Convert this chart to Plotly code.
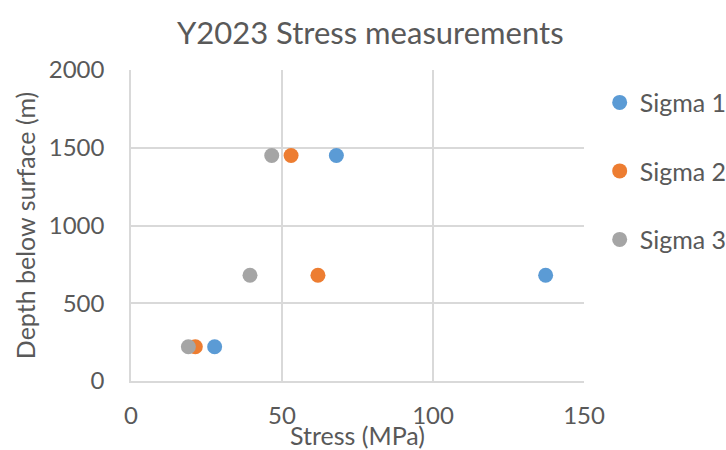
import plotly.graph_objects as go

# Stress measurements (MPa) at three depths (m)
depth_m = [220, 680, 1450]
sigma1_mpa = [27.7, 137.3, 68.0]
sigma2_mpa = [21.3, 61.9, 53.0]
sigma3_mpa = [19.0, 39.4, 46.6]

series_names = ["Sigma 1", "Sigma 2", "Sigma 3"]
series_values = [sigma1_mpa, sigma2_mpa, sigma3_mpa]
series_colors = ["#5B9BD5", "#ED7D31", "#A5A5A5"]

x_ticks = [0, 50, 100, 150]
y_ticks = [0, 500, 1000, 1500, 2000]

FONT = "Lato"
TEXT = "#595959"
GRID = "#D9D9D9"

fig = go.Figure()
for i, (name, vals, col) in enumerate(zip(series_names, series_values, series_colors)):
    fig.add_trace(go.Scatter(
        x=vals, y=depth_m, mode="markers", name=name,
        legendgroup=f"g{i}",
        marker=dict(size=15, color=col, line=dict(width=0)),
    ))

fig.update_layout(
    width=726, height=450,
    margin=dict(l=131, r=142, t=70, b=69),
    paper_bgcolor="white", plot_bgcolor="white",
    font=dict(family=FONT, color=TEXT, size=24),
    title=dict(text="Y2023 Stress measurements", xref="container", x=0.51, xanchor="center",
               y=0.927, yanchor="middle", font=dict(size=31, color=TEXT, family=FONT)),
    legend=dict(xref="container", yref="container", x=0.826, y=0.823,
                xanchor="left", yanchor="top",
                tracegroupgap=33, font=dict(size=25, color=TEXT, family=FONT),
                itemwidth=30, bgcolor="rgba(0,0,0,0)"),
    showlegend=True,
)
fig.update_xaxes(
    range=[0, 150], tickvals=x_ticks, showgrid=True, gridcolor=GRID, gridwidth=1.5,
    showline=True, linecolor=GRID, linewidth=1.5, zeroline=False,
    ticks="", ticklabelstandoff=12, automargin=False,
    tickfont=dict(size=24, color=TEXT),
    title=dict(text="Stress (MPa)", standoff=7, font=dict(size=25, color=TEXT)),
)
fig.update_yaxes(
    range=[0, 2000], tickvals=y_ticks, showgrid=True, gridcolor=GRID, gridwidth=1.5,
    showline=True, linecolor=GRID, linewidth=1.5, zeroline=False,
    ticks="", ticklabelstandoff=20, automargin=False,
    tickfont=dict(size=24, color=TEXT),
    title=dict(text="Depth below surface (m)", standoff=6, font=dict(size=25, color=TEXT)),
)

fig.write_html("out.html")
